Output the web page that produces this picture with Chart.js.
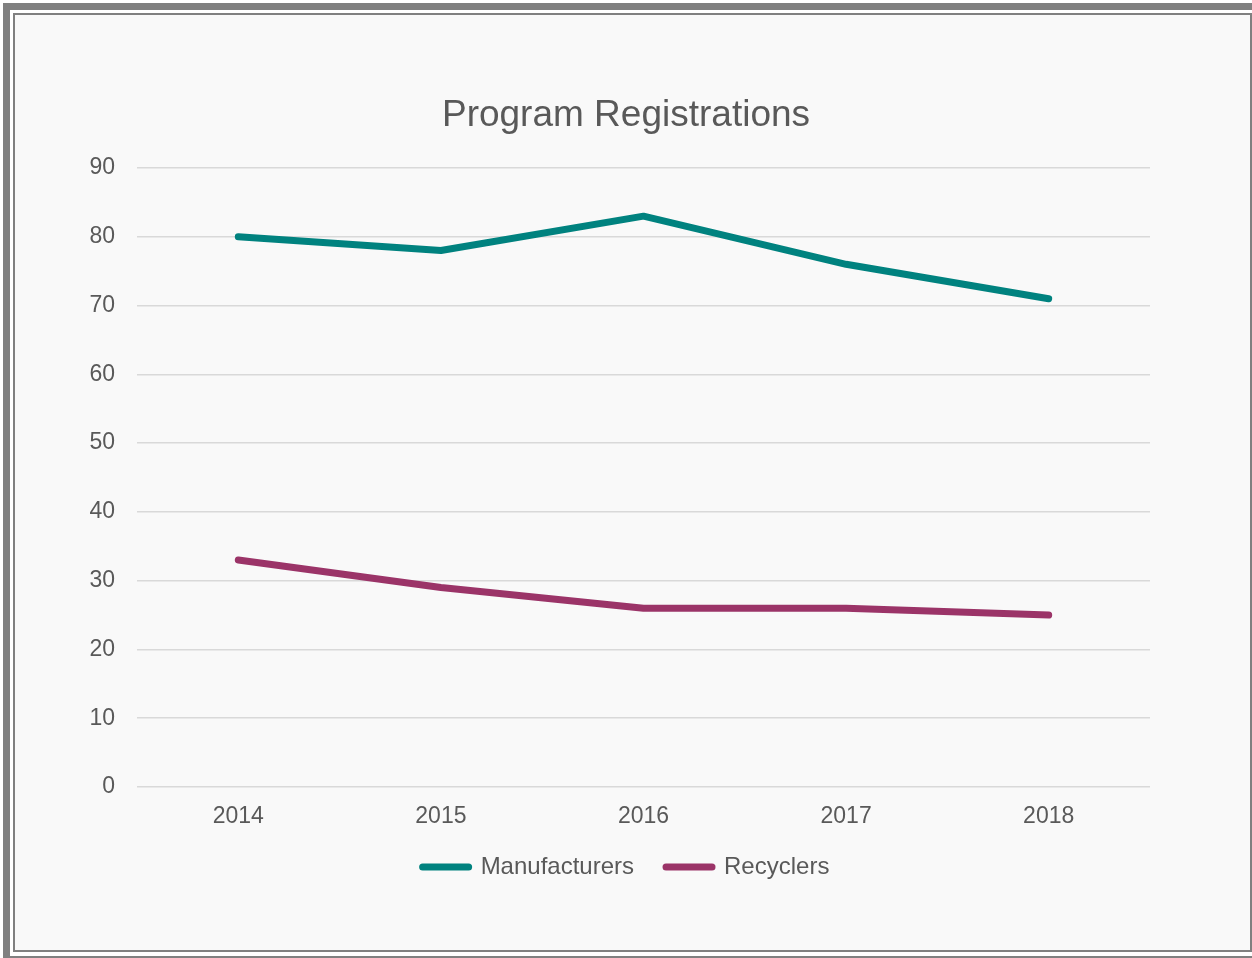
<!DOCTYPE html>
<html>
<head>
<meta charset="utf-8">
<script src="https://cdn.jsdelivr.net/npm/chart.js@4/dist/chart.umd.min.js"></script>
<style>
  html, body { margin: 0; padding: 0; background: #ffffff; overflow: hidden; }
  #outer { position: absolute; left: 3px; top: 3px; width: 1260px; height: 960px; box-sizing: border-box; border: 7px solid #808080; background: #ffffff; }
  #inner { position: absolute; left: 13px; top: 13px; width: 1239px; height: 939px; box-sizing: border-box; border: 2px solid #808080; background: #f9f9f9; }
  #wrap { position: absolute; left: 0; top: 0; width: 1252px; height: 958px; }
</style>
</head>
<body>
<div id="outer"></div>
<div id="inner"></div>
<div id="wrap"><canvas id="c" width="1252" height="958"></canvas></div>
<script>
const categories = ['2014', '2015', '2016', '2017', '2018'];
const manufacturers = [80, 78, 83, 76, 71];
const recyclers = [33, 29, 26, 26, 25];
const seriesNames = ['Manufacturers', 'Recyclers'];
const seriesColors = ['#00827f', '#9b3468'];
const titleText = 'Program Registrations';
const yMin = 0, yMax = 90, yStep = 10;

const textColor = '#595959';
const fontFamily = '"Liberation Sans", Arial, sans-serif';

new Chart(document.getElementById('c'), {
  type: 'line',
  data: {
    labels: categories,
    datasets: [
      { label: seriesNames[0], data: manufacturers, borderColor: seriesColors[0], backgroundColor: seriesColors[0],
        borderWidth: 7, borderCapStyle: 'round', borderJoinStyle: 'round', pointRadius: 0, tension: 0, fill: false },
      { label: seriesNames[1], data: recyclers, borderColor: seriesColors[1], backgroundColor: seriesColors[1],
        borderWidth: 7, borderCapStyle: 'round', borderJoinStyle: 'round', pointRadius: 0, tension: 0, fill: false }
    ]
  },
  options: {
    responsive: false,
    animation: false,
    layout: { padding: { left: 0, right: 0, top: 93.4, bottom: 69 } },
    plugins: {
      title: { display: true, text: titleText, color: textColor,
        font: { family: fontFamily, size: 37, weight: 'normal' }, padding: { top: 0, bottom: 30.2 } },
      legend: { position: 'bottom', fullSize: true,
        labels: { usePointStyle: true, pointStyle: 'line', pointStyleWidth: 46, padding: 32,
          color: textColor, font: { family: fontFamily, size: 24 },
          generateLabels: (chart) => {
            const items = Chart.defaults.plugins.legend.labels.generateLabels(chart);
            items.forEach((it, i) => {
              it.lineCap = 'round';
              it.lineWidth = 7;
              it.strokeStyle = seriesColors[i];
              it.fillStyle = seriesColors[i];
              it.pointStyle = 'line';
            });
            return items;
          } } },
      tooltip: { enabled: false }
    },
    scales: {
      x: {
        offset: true,
        afterFit: (s) => { s.height = 36; },
        grid: { display: false, drawTicks: false },
        border: { display: false },
        ticks: { color: textColor, font: { family: fontFamily, size: 23 }, padding: 16 }
      },
      y: {
        min: yMin, max: yMax,
        afterFit: (s) => { s.width = 137; },
        grid: { color: '#d9d9d9', lineWidth: 1.5, drawTicks: false },
        border: { display: false },
        ticks: { stepSize: yStep, color: textColor, font: { family: fontFamily, size: 23 }, padding: 22 }
      },
      yRight: {
        position: 'right',
        min: 0, max: 1,
        afterFit: (s) => { s.width = 102; },
        grid: { display: false, drawTicks: false },
        border: { display: false },
        ticks: { display: false }
      }
    }
  }
});
</script>
</body>
</html>
